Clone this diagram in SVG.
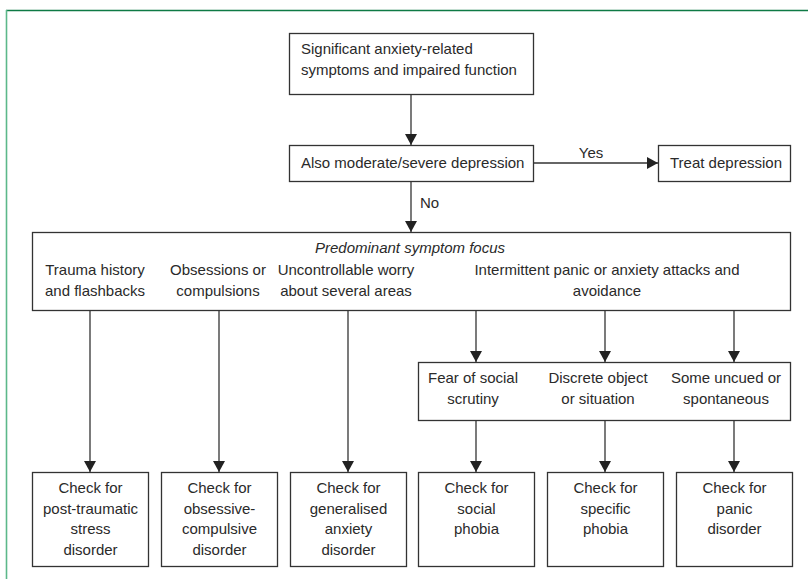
<svg xmlns="http://www.w3.org/2000/svg" width="808" height="579" viewBox="0 0 808 579">
<style>
.box{fill:#fff;stroke:#333;stroke-width:1.3}
.t{font-family:"Liberation Sans",Arial,sans-serif;font-size:15px;fill:#2a2a2a}
.c{text-anchor:middle}
.i{font-style:italic}
.ln{stroke:#333;stroke-width:1.3;fill:none}
</style>
<defs>
<marker id="ah" markerWidth="12" markerHeight="12" refX="11" refY="6" orient="auto" markerUnits="userSpaceOnUse">
<path d="M0,0 L11,6 L0,12 z" fill="#222"/>
</marker>
</defs>
<rect x="0" y="0" width="808" height="579" fill="#fff"/>
<line x1="6" y1="10.5" x2="808" y2="10.5" stroke="#0e7a45" stroke-width="1.5"/>
<line x1="6.5" y1="10" x2="6.5" y2="579" stroke="#5cb88a" stroke-width="1.6"/>

<g id="connectors">
<line class="ln" x1="411" y1="94" x2="411" y2="145" marker-end="url(#ah)"/>
<line class="ln" x1="533" y1="163" x2="658" y2="163" marker-end="url(#ah)"/>
<text class="t c" x="591" y="158">Yes</text>
<line class="ln" x1="411" y1="181" x2="411" y2="232" marker-end="url(#ah)"/>
<text class="t" x="420" y="208">No</text>
<line class="ln" x1="90" y1="311" x2="90" y2="472" marker-end="url(#ah)"/>
<line class="ln" x1="219" y1="311" x2="219" y2="472" marker-end="url(#ah)"/>
<line class="ln" x1="348" y1="311" x2="348" y2="472" marker-end="url(#ah)"/>
<line class="ln" x1="476" y1="311" x2="476" y2="362" marker-end="url(#ah)"/>
<line class="ln" x1="605" y1="311" x2="605" y2="362" marker-end="url(#ah)"/>
<line class="ln" x1="734" y1="311" x2="734" y2="362" marker-end="url(#ah)"/>
<line class="ln" x1="476" y1="420" x2="476" y2="472" marker-end="url(#ah)"/>
<line class="ln" x1="605" y1="420" x2="605" y2="472" marker-end="url(#ah)"/>
<line class="ln" x1="734" y1="420" x2="734" y2="472" marker-end="url(#ah)"/>
</g>

<g id="start">
<rect class="box" x="289.5" y="33.5" width="244" height="61"/>
<text class="t" x="301" y="54">Significant anxiety-related</text>
<text class="t" x="301" y="75">symptoms and impaired function</text>
</g>

<g id="depression">
<rect class="box" x="289.5" y="145.5" width="244" height="36"/>
<text class="t" x="301" y="168">Also moderate/severe depression</text>
</g>

<g id="treat">
<rect class="box" x="658.5" y="145.5" width="132" height="36"/>
<text class="t" x="670" y="168">Treat depression</text>
</g>

<g id="focus">
<rect class="box" x="32.5" y="232.5" width="758" height="78"/>
<text class="t c i" x="410" y="253">Predominant symptom focus</text>
<text class="t c" x="95" y="275">Trauma history</text>
<text class="t c" x="95" y="296">and flashbacks</text>
<text class="t c" x="218" y="275">Obsessions or</text>
<text class="t c" x="218" y="296">compulsions</text>
<text class="t c" x="346" y="275">Uncontrollable worry</text>
<text class="t c" x="346" y="296">about several areas</text>
<text class="t c" x="607" y="275">Intermittent panic or anxiety attacks and</text>
<text class="t c" x="607" y="296">avoidance</text>
</g>

<g id="panic-types">
<rect class="box" x="418.5" y="362.5" width="372" height="58"/>
<text class="t c" x="473" y="383">Fear of social</text>
<text class="t c" x="473" y="404">scrutiny</text>
<text class="t c" x="598" y="383">Discrete object</text>
<text class="t c" x="598" y="404">or situation</text>
<text class="t c" x="726" y="383">Some uncued or</text>
<text class="t c" x="726" y="404">spontaneous</text>
</g>

<g id="ptsd">
<rect class="box" x="32.5" y="472.5" width="116" height="94"/>
<text class="t c" x="90.5" y="493">Check for</text>
<text class="t c" x="90.5" y="514">post-traumatic</text>
<text class="t c" x="90.5" y="534">stress</text>
<text class="t c" x="90.5" y="555">disorder</text>
</g>

<g id="ocd">
<rect class="box" x="161.5" y="472.5" width="116" height="94"/>
<text class="t c" x="219.5" y="493">Check for</text>
<text class="t c" x="219.5" y="514">obsessive-</text>
<text class="t c" x="219.5" y="534">compulsive</text>
<text class="t c" x="219.5" y="555">disorder</text>
</g>

<g id="gad">
<rect class="box" x="290.5" y="472.5" width="116" height="94"/>
<text class="t c" x="348.5" y="493">Check for</text>
<text class="t c" x="348.5" y="514">generalised</text>
<text class="t c" x="348.5" y="534">anxiety</text>
<text class="t c" x="348.5" y="555">disorder</text>
</g>

<g id="social">
<rect class="box" x="418.5" y="472.5" width="116" height="94"/>
<text class="t c" x="476.5" y="493">Check for</text>
<text class="t c" x="476.5" y="514">social</text>
<text class="t c" x="476.5" y="534">phobia</text>
</g>

<g id="specific">
<rect class="box" x="547.5" y="472.5" width="116" height="94"/>
<text class="t c" x="605.5" y="493">Check for</text>
<text class="t c" x="605.5" y="514">specific</text>
<text class="t c" x="605.5" y="534">phobia</text>
</g>

<g id="panic">
<rect class="box" x="676.5" y="472.5" width="116" height="94"/>
<text class="t c" x="734.5" y="493">Check for</text>
<text class="t c" x="734.5" y="514">panic</text>
<text class="t c" x="734.5" y="534">disorder</text>
</g>
</svg>
